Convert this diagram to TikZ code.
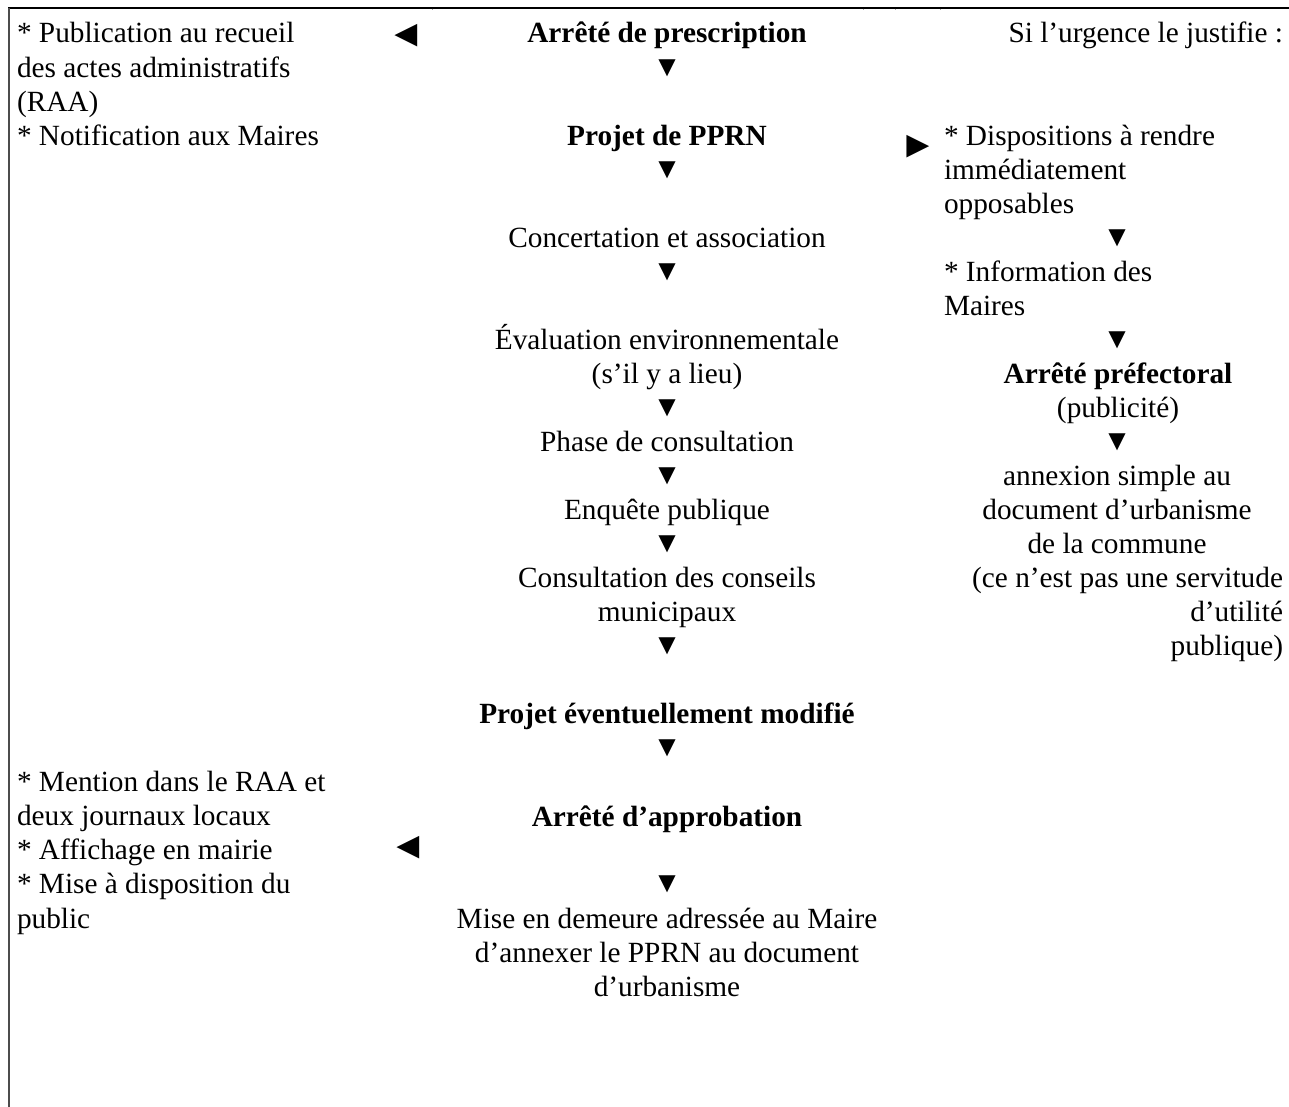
\documentclass[tikz,border=0pt]{standalone}
\usepackage{fontspec}
\setmainfont{Liberation Serif}
\begin{document}
\begin{tikzpicture}[x=1pt,y=-1pt,
  txt/.style={inner sep=0pt, outer sep=0pt, font=\fontsize{29.3}{34.04}\selectfont},
  boldtxt/.style={txt, font=\fontsize{29.3}{34.04}\selectfont\bfseries},
  glyph/.style={inner sep=0pt, outer sep=0pt, font=\fontsize{29.3}{34.04}\selectfont, anchor=center},
  sideglyph/.style={glyph, font=\fontsize{38}{40}\selectfont},
  border/.style={line width=1.4pt, black},
  sideborder/.style={line width=1.6pt, black!70},
  tick/.style={line width=0.8pt, black!35}]
\useasboundingbox (0,0) rectangle (1289,1107);

% frame
\coordinate (tl) at (8,8);
\coordinate (tr) at (1289,8);
\coordinate (bl) at (8.8,1107);
\coordinate (tlv) at (8.8,8);
\draw[border] (tl) -- (tr);
\draw[sideborder] (tlv) -- (bl);
\foreach \tx in {432,863,895,940}{
  \coordinate (t\tx a) at (\tx,8.7);
  \coordinate (t\tx b) at (\tx,10.5);
  \draw[tick] (t\tx a) -- (t\tx b);
}

% left column (multi-line nodes: base = last line)
\node[txt, align=left, anchor=base west] (pub) at (17,145.1)
  {* Publication au recueil\\des actes administratifs\\(RAA)\\* Notification aux Maires};
\node[sideglyph] (arrL1) at (406,36) {◄};
\node[txt, align=left, anchor=base west] (mention) at (17,928)
  {* Mention dans le RAA et\\deux journaux locaux\\* Affichage en mairie\\* Mise à disposition du\\public};
\node[sideglyph] (arrL2) at (408,847.5) {◄};

% centre column
\node[boldtxt, anchor=base] (presc) at (667,43) {Arrêté de prescription};
\node[glyph] (d1) at (667,68) {▼};
\node[boldtxt, anchor=base] (pprn) at (667,145.1) {Projet de PPRN};
\node[glyph] (d4) at (667,170.5) {▼};
\node[txt, anchor=base] (conc) at (667,247.2) {Concertation et association};
\node[glyph] (d7) at (667,272.3) {▼};
\node[txt, align=center, anchor=base] (eval) at (667,383.4)
  {Évaluation environnementale\\(s’il y a lieu)};
\node[glyph] (d11) at (667,408.4) {▼};
\node[txt, anchor=base] (phase) at (667,451.5) {Phase de consultation};
\node[glyph] (d13) at (667,476.5) {▼};
\node[txt, anchor=base] (enq) at (667,519.6) {Enquête publique};
\node[glyph] (d15) at (667,544.6) {▼};
\node[txt, align=center, anchor=base] (cons) at (667,621.7)
  {Consultation des conseils\\municipaux};
\node[glyph] (d18) at (667,646.7) {▼};
\node[boldtxt, anchor=base] (modif) at (667,723.8) {Projet éventuellement modifié};
\node[glyph] (d21) at (667,748.5) {▼};
\node[boldtxt, anchor=base] (appr) at (667,826) {Arrêté d’approbation};
\node[glyph] (d25) at (667,884.5) {▼};
\node[txt, align=center, anchor=base] (mise) at (667,996.1)
  {Mise en demeure adressée au Maire\\d’annexer le PPRN au document\\d’urbanisme};

% right column
\node[txt, anchor=base east] (urg) at (1283,43) {Si l’urgence le justifie :};
\node[sideglyph] (arrR) at (918.5,146.7) {►};
\node[txt, align=left, anchor=base west] (disp) at (944,213.2)
  {* Dispositions à rendre\\immédiatement\\opposables};
\node[glyph] (r6) at (1117,238.2) {▼};
\node[txt, align=left, anchor=base west] (info) at (944,315.3)
  {* Information des\\Maires};
\node[glyph] (r9) at (1117,340.4) {▼};
\node[txt, align=center, anchor=base] (pref) at (1118,417.4)
  {\textbf{Arrêté préfectoral}\\(publicité)};
\node[glyph] (r12) at (1117,442.5) {▼};
\node[txt, align=center, anchor=base] (annex) at (1117,553.6)
  {annexion simple au\\document d’urbanisme\\de la commune};
\node[txt, align=right, anchor=base east] (serv) at (1283,655.7)
  {(ce n’est pas une servitude\\d’utilité\\publique)};
\end{tikzpicture}
\end{document}
